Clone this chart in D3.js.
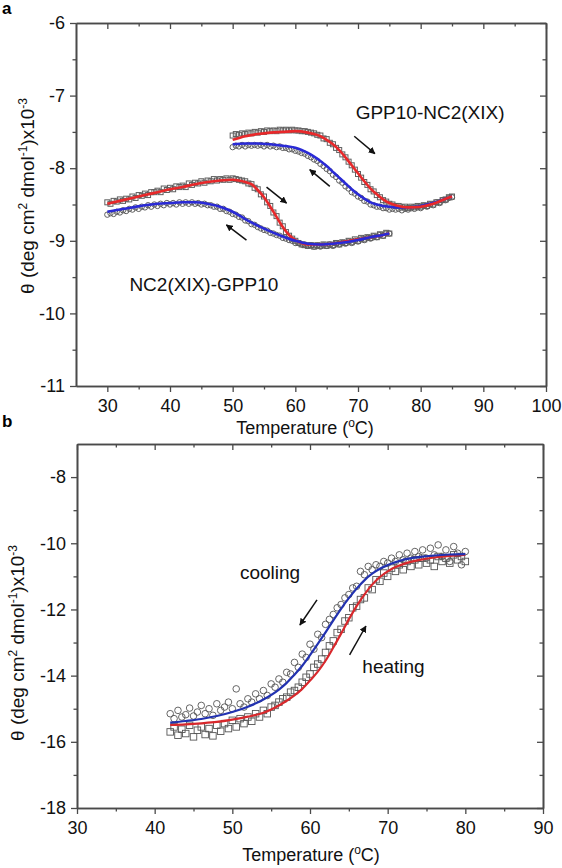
<!DOCTYPE html>
<html><head><meta charset="utf-8">
<script src="https://cdn.jsdelivr.net/npm/d3@7"></script>
<style>
html,body{margin:0;padding:0;background:#fff;}
svg{display:block;font-family:"Liberation Sans",Arial,sans-serif;}
</style></head>
<body>
<script>
// ---------------- Panel a data ----------------
// NC2(XIX)-GPP10 : sampled every 0.5 °C from 30 to 75
const aLowStart = 30, aLowStep = 0.5;
const aLowHeat = [-8.47,-8.49,-8.45,-8.46,-8.43,-8.45,-8.42,-8.43,-8.39,-8.41,-8.37,-8.38,-8.35,-8.37,-8.33,-8.33,-8.31,-8.33,-8.28,-8.30,
 -8.27,-8.29,-8.25,-8.26,-8.24,-8.26,-8.21,-8.23,-8.20,-8.21,-8.18,-8.20,-8.17,-8.18,-8.15,-8.17,-8.15,-8.16,-8.14,-8.16,
 -8.14,-8.15,-8.16,-8.17,-8.18,-8.21,-8.22,-8.27,-8.29,-8.36,-8.39,-8.47,-8.52,-8.61,-8.66,-8.75,-8.80,-8.88,-8.93,-8.97,
 -9.00,-9.03,-9.05,-9.06,-9.07,-9.06,-9.08,-9.06,-9.07,-9.05,-9.07,-9.05,-9.06,-9.03,-9.05,-9.02,-9.03,-9.00,-9.02,-8.98,
 -9.00,-8.96,-8.98,-8.95,-8.96,-8.93,-8.95,-8.91,-8.93,-8.89,-8.90];
const aLowCool = [-8.64,-8.62,-8.63,-8.60,-8.61,-8.58,-8.59,-8.56,-8.57,-8.54,-8.56,-8.53,-8.54,-8.51,-8.53,-8.50,-8.52,-8.49,-8.51,-8.48,
 -8.50,-8.48,-8.50,-8.47,-8.49,-8.47,-8.49,-8.47,-8.49,-8.48,-8.50,-8.49,-8.51,-8.51,-8.53,-8.53,-8.56,-8.56,-8.59,-8.60,
 -8.63,-8.64,-8.67,-8.68,-8.72,-8.73,-8.77,-8.78,-8.81,-8.83,-8.85,-8.86,-8.89,-8.90,-8.92,-8.93,-8.96,-8.97,-8.99,-9.00,
 -9.03,-9.03,-9.05,-9.05,-9.07,-9.06,-9.08,-9.07,-9.08,-9.06,-9.07,-9.05,-9.07,-9.04,-9.05,-9.03,-9.04,-9.01,-9.03,-9.00,
 -9.01,-8.98,-8.99,-8.96,-8.97,-8.94,-8.95,-8.92,-8.93,-8.90,-8.90];
const aLowHeatFitT = [30,32,34,36,38,40,42,44,46,48,50,51,52,53,54,55,56,57,58,59,60,61,62,63,64,66,68,70,72,74,75];
const aLowHeatFitV = [-8.49,-8.45,-8.41,-8.37,-8.33,-8.29,-8.26,-8.22,-8.19,-8.17,-8.16,-8.17,-8.19,-8.22,-8.30,-8.40,-8.53,-8.67,-8.81,-8.92,-8.99,-9.03,-9.05,-9.05,-9.05,-9.04,-9.01,-8.98,-8.95,-8.92,-8.90];
const aLowCoolFitT = [30,32,34,36,38,40,42,44,46,48,50,52,54,56,58,60,62,64,66,68,70,72,74,75];
const aLowCoolFitV = [-8.60,-8.57,-8.54,-8.51,-8.49,-8.48,-8.47,-8.47,-8.49,-8.53,-8.60,-8.70,-8.79,-8.87,-8.94,-9.00,-9.04,-9.05,-9.04,-9.02,-8.99,-8.95,-8.92,-8.90];

// GPP10-NC2(XIX) : sampled every 0.5 °C from 50 to 85
const aUpStart = 50, aUpStep = 0.5;
const aUpHeat = [-7.55,-7.53,-7.54,-7.52,-7.53,-7.51,-7.52,-7.50,-7.51,-7.49,-7.50,-7.48,-7.49,-7.48,-7.49,-7.47,-7.48,-7.47,-7.48,-7.47,
 -7.48,-7.48,-7.49,-7.49,-7.50,-7.51,-7.52,-7.54,-7.55,-7.59,-7.60,-7.65,-7.67,-7.72,-7.75,-7.81,-7.85,-7.91,-7.96,-8.02,
 -8.08,-8.13,-8.19,-8.23,-8.29,-8.32,-8.37,-8.40,-8.44,-8.46,-8.49,-8.50,-8.52,-8.52,-8.54,-8.53,-8.55,-8.53,-8.54,-8.52,
 -8.53,-8.51,-8.52,-8.49,-8.50,-8.47,-8.47,-8.44,-8.43,-8.40,-8.39];
const aUpCool = [-7.71,-7.69,-7.70,-7.68,-7.70,-7.68,-7.69,-7.68,-7.69,-7.68,-7.70,-7.68,-7.70,-7.69,-7.71,-7.70,-7.72,-7.72,-7.74,-7.74,
 -7.76,-7.77,-7.79,-7.80,-7.83,-7.85,-7.88,-7.90,-7.94,-7.97,-8.01,-8.04,-8.09,-8.12,-8.17,-8.20,-8.25,-8.28,-8.33,-8.35,
 -8.39,-8.41,-8.45,-8.46,-8.50,-8.51,-8.53,-8.53,-8.55,-8.55,-8.57,-8.56,-8.57,-8.56,-8.58,-8.56,-8.57,-8.55,-8.56,-8.54,
 -8.55,-8.52,-8.53,-8.50,-8.51,-8.47,-8.48,-8.44,-8.44,-8.41,-8.40];
const aUpHeatFitT = [50,52,54,56,58,60,62,63,64,65,66,67,68,69,70,71,72,73,74,75,76,77,78,80,82,84,85];
const aUpHeatFitV = [-7.61,-7.56,-7.53,-7.51,-7.50,-7.49,-7.51,-7.53,-7.56,-7.61,-7.67,-7.75,-7.85,-7.96,-8.07,-8.18,-8.28,-8.36,-8.43,-8.48,-8.51,-8.53,-8.54,-8.53,-8.49,-8.42,-8.39];
const aUpCoolFitT = [50,52,54,56,58,60,61,62,63,64,65,66,67,68,69,70,71,72,73,74,75,76,78,80,82,84,85];
const aUpCoolFitV = [-7.67,-7.66,-7.66,-7.67,-7.69,-7.72,-7.75,-7.79,-7.84,-7.90,-7.97,-8.05,-8.13,-8.21,-8.29,-8.36,-8.42,-8.47,-8.50,-8.52,-8.53,-8.54,-8.54,-8.52,-8.48,-8.42,-8.39];

// ---------------- Panel b data ----------------
const bStart = 42, bStep = 0.5;
const bCool = [-15.15,-15.30,-15.05,-15.25,-15.18,-14.98,-15.22,-15.10,-14.90,-15.15,-15.00,-15.20,-14.85,-15.05,-14.95,-14.80,-15.00,-14.40,-14.85,-14.95,
 -14.70,-14.80,-14.55,-14.70,-14.45,-14.60,-14.25,-14.35,-14.10,-14.20,-13.90,-13.95,-13.60,-13.75,-13.35,-13.45,-13.05,-13.20,-12.75,-12.85,
 -12.45,-12.30,-12.15,-11.95,-11.85,-11.65,-11.55,-11.35,-11.30,-10.85,-10.95,-10.70,-10.80,-10.65,-10.70,-10.55,-10.60,-10.45,-10.55,-10.35,
 -10.50,-10.30,-10.45,-10.25,-10.40,-10.20,-10.45,-10.15,-10.35,-10.05,-10.40,-10.20,-10.55,-10.10,-10.30,-10.65,-10.25];
const bHeat = [-15.70,-15.55,-15.80,-15.62,-15.75,-15.50,-15.85,-15.65,-15.55,-15.78,-15.60,-15.82,-15.50,-15.68,-15.45,-15.60,-15.35,-15.55,-15.30,-15.45,
 -15.25,-15.38,-15.15,-15.25,-15.05,-15.15,-14.95,-14.90,-14.80,-14.70,-14.65,-14.50,-14.45,-14.35,-14.20,-14.05,-13.95,-13.75,-13.65,-13.50,
 -13.30,-13.10,-12.95,-12.70,-12.60,-12.35,-12.25,-11.95,-11.90,-11.70,-11.65,-11.35,-11.40,-11.10,-11.15,-10.90,-11.00,-10.75,-10.85,-10.65,
 -10.80,-10.55,-10.70,-10.50,-10.65,-10.45,-10.60,-10.50,-10.70,-10.40,-10.55,-10.45,-10.60,-10.35,-10.50,-10.40,-10.55];
const bCoolFitT = [42,44,46,48,50,52,54,56,57,58,59,60,61,62,63,64,65,66,67,68,69,70,72,74,76,78,80];
const bCoolFitV = [-15.42,-15.37,-15.31,-15.22,-15.10,-14.94,-14.72,-14.42,-14.22,-13.97,-13.70,-13.38,-13.04,-12.69,-12.33,-11.98,-11.66,-11.37,-11.12,-10.92,-10.77,-10.66,-10.50,-10.42,-10.37,-10.34,-10.33];
const bHeatFitT = [42,44,46,48,50,52,54,55,56,57,58,59,60,61,62,63,64,65,66,67,68,69,70,71,72,74,76,78,80];
const bHeatFitV = [-15.49,-15.47,-15.44,-15.40,-15.33,-15.24,-15.12,-15.02,-14.90,-14.76,-14.60,-14.40,-14.15,-13.88,-13.55,-13.15,-12.73,-12.30,-11.90,-11.55,-11.25,-11.02,-10.85,-10.72,-10.63,-10.51,-10.43,-10.38,-10.35];

// ticks
const aXMajor = [30,40,50,60,70,80,90,100], aXMinor = [35,45,55,65,75,85,95];
const aYMajor = [-6,-7,-8,-9,-10,-11], aYMinor = [-6.5,-7.5,-8.5,-9.5,-10.5];
const bXMajor = [30,40,50,60,70,80,90], bXMinor = [35,45,55,65,75,85];
const bYMajor = [-8,-10,-12,-14,-16,-18], bYMinor = [-9,-11,-13,-15,-17];

// annotations (data coordinates)
const aArrows = [[69.4,-7.56,72.7,-7.80],[65.5,-8.25,62.3,-8.02],[55.4,-8.26,58.6,-8.48],[52.2,-8.99,49.0,-8.78]];
const bArrows = [[60.9,-11.71,58.7,-12.47],[65.1,-13.37,67.2,-12.50]];

// ---------------- drawing ----------------
const svg = d3.select("body").append("svg").attr("width",562).attr("height",868);
svg.append("defs").append("marker").attr("id","ah").attr("viewBox","0 0 10 10")
  .attr("refX",9).attr("refY",5).attr("markerWidth",7).attr("markerHeight",7)
  .attr("markerUnits","userSpaceOnUse").attr("orient","auto")
  .append("path").attr("d","M0,0 L10,5 L0,10 z").attr("fill","#111");

const FS = 18;
function series(start, step, vals){ return vals.map((v,i)=>({t:start+i*step, v})); }
function fit(T, V){ return T.map((t,i)=>({t, v:V[i]})); }

function frame(x, y, xMaj, xMin, yMaj, yMin){
  const [x0,x1] = x.range(), [y0,y1] = y.range();
  const g = svg.append("g");
  const style = sel => { sel.selectAll(".domain").attr("stroke","#4a4a4a").attr("stroke-width",1.6);
    sel.selectAll(".tick line").attr("stroke","#4a4a4a").attr("stroke-width",1.3);
    sel.selectAll("text").attr("font-size",FS).attr("fill","#111").attr("font-family","Liberation Sans, Arial, sans-serif"); };
  g.append("g").attr("transform",`translate(0,${y0})`).call(d3.axisBottom(x).tickValues(xMaj).tickSize(6).tickPadding(7).tickSizeOuter(0).tickFormat(d=>String(d))).call(style);
  g.append("g").attr("transform",`translate(0,${y0})`).call(d3.axisBottom(x).tickValues(xMin).tickSize(3.5).tickSizeOuter(0).tickFormat("")).call(style);
  g.append("g").attr("transform",`translate(0,${y1})`).call(d3.axisTop(x).tickValues(xMaj).tickSize(-6).tickSizeOuter(0).tickFormat("")).call(style);
  g.append("g").attr("transform",`translate(0,${y1})`).call(d3.axisTop(x).tickValues(xMin).tickSize(-3.5).tickSizeOuter(0).tickFormat("")).call(style);
  g.append("g").attr("transform",`translate(${x0},0)`).call(d3.axisLeft(y).tickValues(yMaj).tickSize(6).tickPadding(5).tickSizeOuter(0).tickFormat(d=>String(d))).call(style);
  g.append("g").attr("transform",`translate(${x0},0)`).call(d3.axisLeft(y).tickValues(yMin).tickSize(3.5).tickSizeOuter(0).tickFormat("")).call(style);
  g.append("g").attr("transform",`translate(${x1},0)`).call(d3.axisRight(y).tickValues(yMaj).tickSize(-6).tickSizeOuter(0).tickFormat("")).call(style);
  g.append("g").attr("transform",`translate(${x1},0)`).call(d3.axisRight(y).tickValues(yMin).tickSize(-3.5).tickSizeOuter(0).tickFormat("")).call(style);
}

function squares(x,y,data,s,stroke,sw){
  svg.append("g").selectAll("rect").data(data).join("rect")
    .attr("x",d=>x(d.t)-s/2).attr("y",d=>y(d.v)-s/2).attr("width",s).attr("height",s)
    .attr("fill","none").attr("stroke",stroke).attr("stroke-width",sw);
}
function circles(x,y,data,r,stroke,sw){
  svg.append("g").selectAll("circle").data(data).join("circle")
    .attr("cx",d=>x(d.t)).attr("cy",d=>y(d.v)).attr("r",r)
    .attr("fill","none").attr("stroke",stroke).attr("stroke-width",sw);
}
function curve(x,y,data,color,w){
  svg.append("path").datum(data).attr("fill","none").attr("stroke",color).attr("stroke-width",w)
    .attr("d", d3.line().x(d=>x(d.t)).y(d=>y(d.v)).curve(d3.curveMonotoneX));
}
function arrows(x,y,list){
  svg.append("g").selectAll("line").data(list).join("line")
    .attr("x1",d=>x(d[0])).attr("y1",d=>y(d[1])).attr("x2",d=>x(d[2])).attr("y2",d=>y(d[3]))
    .attr("stroke","#111").attr("stroke-width",1.5).attr("marker-end","url(#ah)");
}
function yTitle(cx, cy){
  const t = svg.append("text").attr("transform",`translate(${cx},${cy}) rotate(-90)`)
    .attr("text-anchor","middle").attr("font-size",FS+1).attr("fill","#111");
  t.append("tspan").text("θ (deg cm");
  t.append("tspan").attr("dy",-7).attr("font-size",12).text("2");
  t.append("tspan").attr("dy",7).text(" dmol");
  t.append("tspan").attr("dy",-7).attr("font-size",12).text("-1");
  t.append("tspan").attr("dy",7).text(")x10");
  t.append("tspan").attr("dy",-7).attr("font-size",12).text("-3");
}
function xTitle(cx, by){
  const t = svg.append("text").attr("x",cx).attr("y",by).attr("text-anchor","middle").attr("font-size",FS).attr("fill","#111");
  t.append("tspan").text("Temperature (");
  t.append("tspan").attr("dy",-7).attr("font-size",12).text("o");
  t.append("tspan").attr("dy",7).text("C)");
}
function label(x,y,t,v,txt){
  svg.append("text").attr("x",x(t)).attr("y",y(v)).attr("text-anchor","middle").attr("font-size",19).attr("fill","#111").text(txt);
}

// Panel a
const xA = d3.scaleLinear().domain([25,100]).range([76,546]);
const yA = d3.scaleLinear().domain([-11,-6]).range([386,23]);
frame(xA, yA, aXMajor, aXMinor, aYMajor, aYMinor);
const mA = "#5e5e5e";
squares(xA,yA,series(aLowStart,aLowStep,aLowHeat),5,mA,1);
circles(xA,yA,series(aLowStart,aLowStep,aLowCool),2.7,mA,1);
squares(xA,yA,series(aUpStart,aUpStep,aUpHeat),5,mA,1);
circles(xA,yA,series(aUpStart,aUpStep,aUpCool),2.7,mA,1);
curve(xA,yA,fit(aLowHeatFitT,aLowHeatFitV),"#e8282a",2.6);
curve(xA,yA,fit(aLowCoolFitT,aLowCoolFitV),"#2a2ad6",2.6);
curve(xA,yA,fit(aUpCoolFitT,aUpCoolFitV),"#2a2ad6",2.6);
curve(xA,yA,fit(aUpHeatFitT,aUpHeatFitV),"#e8282a",2.6);
arrows(xA,yA,aArrows);
label(xA,yA,81.5,-7.32,"GPP10-NC2(XIX)");
label(xA,yA,45.4,-9.69,"NC2(XIX)-GPP10");
yTitle(34,196);
xTitle(305,434);
svg.append("text").attr("x",2).attr("y",14).attr("font-size",17).attr("font-weight","bold").text("a");

// Panel b
const xB = d3.scaleLinear().domain([30,90]).range([77,543]);
const yB = d3.scaleLinear().domain([-18,-7]).range([808,444]);
frame(xB, yB, bXMajor, bXMinor, bYMajor, bYMinor);
const mB = "#555";
squares(xB,yB,series(bStart,bStep,bHeat),6.5,mB,0.9);
circles(xB,yB,series(bStart,bStep,bCool),3.3,mB,0.9);
curve(xB,yB,fit(bHeatFitT,bHeatFitV),"#d8282c",2.2);
curve(xB,yB,fit(bCoolFitT,bCoolFitV),"#2232b0",2.2);
arrows(xB,yB,bArrows);
label(xB,yB,54.85,-11.08,"cooling");
label(xB,yB,70.75,-13.92,"heating");
yTitle(24,643);
xTitle(311,861);
svg.append("text").attr("x",2).attr("y",427).attr("font-size",17).attr("font-weight","bold").text("b");
</script>
</body></html>
